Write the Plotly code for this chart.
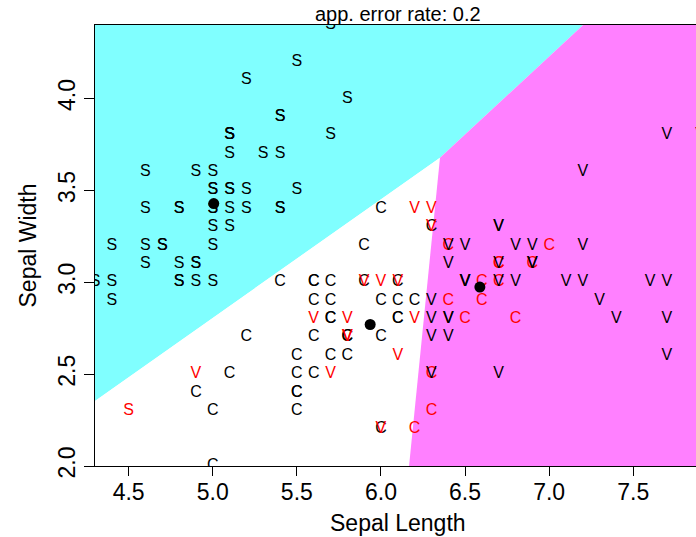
import plotly.graph_objects as go

# ---- data (iris, Sepal.Length / Sepal.Width) ----
setosa_len = [5.1,4.9,4.7,4.6,5.0,5.4,4.6,5.0,4.4,4.9,5.4,4.8,4.8,4.3,5.8,5.7,5.4,5.1,5.7,5.1,
              5.4,5.1,4.6,5.1,4.8,5.0,5.0,5.2,5.2,4.7,4.8,5.4,5.2,5.5,4.9,5.0,5.5,4.9,4.4,5.1,
              5.0,4.5,4.4,5.0,5.1,4.8,5.1,4.6,5.3,5.0]
setosa_wid = [3.5,3.0,3.2,3.1,3.6,3.9,3.4,3.4,2.9,3.1,3.7,3.4,3.0,3.0,4.0,4.4,3.9,3.5,3.8,3.8,
              3.4,3.7,3.6,3.3,3.4,3.0,3.4,3.5,3.4,3.2,3.1,3.4,4.1,4.2,3.1,3.2,3.5,3.6,3.0,3.4,
              3.5,2.3,3.2,3.5,3.8,3.0,3.8,3.2,3.7,3.3]
versi_len = [7.0,6.4,6.9,5.5,6.5,5.7,6.3,4.9,6.6,5.2,5.0,5.9,6.0,6.1,5.6,6.7,5.6,5.8,6.2,5.6,
             5.9,6.1,6.3,6.1,6.4,6.6,6.8,6.7,6.0,5.7,5.5,5.5,5.8,6.0,5.4,6.0,6.7,6.3,5.6,5.5,
             5.5,6.1,5.8,5.0,5.6,5.7,5.7,6.2,5.1,5.7]
versi_wid = [3.2,3.2,3.1,2.3,2.8,2.8,3.3,2.4,2.9,2.7,2.0,3.0,2.2,2.9,2.9,3.1,3.0,2.7,2.2,2.5,
             3.2,2.8,2.5,2.8,2.9,3.0,2.8,3.0,2.9,2.6,2.4,2.4,2.7,2.7,3.0,3.4,3.1,2.3,3.0,2.5,
             2.6,3.0,2.6,2.3,2.7,3.0,2.9,2.9,2.5,2.8]
virg_len = [6.3,5.8,7.1,6.3,6.5,7.6,4.9,7.3,6.7,7.2,6.5,6.4,6.8,5.7,5.8,6.4,6.5,7.7,7.7,6.0,
            6.9,5.6,7.7,6.3,6.7,7.2,6.2,6.1,6.4,7.2,7.4,7.9,6.4,6.3,6.1,7.7,6.3,6.4,6.0,6.9,
            6.7,6.9,5.8,6.8,6.7,6.7,6.3,6.5,6.2,5.9]
virg_wid = [3.3,2.7,3.0,2.9,3.0,3.0,2.5,2.9,2.5,3.6,3.2,2.7,3.0,2.5,2.8,3.2,3.0,3.8,2.6,2.2,
            3.2,2.8,2.8,2.7,3.3,3.2,2.8,3.0,2.8,3.0,2.8,3.8,2.8,2.8,2.6,3.0,3.4,3.1,3.0,3.1,
            3.1,3.1,2.7,3.2,3.3,3.0,2.5,3.0,3.4,3.0]
class_letters = ["S", "C", "V"]

# misclassified observations (1-based row numbers), shown in red
misclassified = [42,
                 51,52,53,55,59,66,69,73,75,76,77,78,87,88,
                 101,102,107,114,115,120,122,127,128,135,137,139,143,149,150]

# class means (black dots)
means_x = [5.006, 5.936, 6.588]
means_y = [3.428, 2.770, 2.974]

# decision regions
region_setosa_x = [4.3, 6.351, 7.202, 4.3]
region_setosa_y = [2.354, 3.678, 4.4, 4.4]
region_versi_x = [4.3, 6.167, 6.351, 4.3]
region_versi_y = [2.0, 2.0, 3.678, 2.354]
region_virg_x = [6.167, 8.0, 8.0, 7.202, 6.351]
region_virg_y = [2.0, 2.0, 4.4, 4.4, 3.678]
region_colors = ["#80FFFF", "#FFFFFF", "#FF80FF"]

title_text = "app. error rate: 0.2"
x_label = "Sepal Length"
y_label = "Sepal Width"
x_ticks = [4.5, 5.0, 5.5, 6.0, 6.5, 7.0, 7.5]
y_ticks = [2.0, 2.5, 3.0, 3.5, 4.0]

FONT = "Liberation Sans, Arial, Helvetica, sans-serif"

fig = go.Figure()

for rx, ry, col in [(region_setosa_x, region_setosa_y, region_colors[0]),
                    (region_versi_x, region_versi_y, region_colors[1]),
                    (region_virg_x, region_virg_y, region_colors[2])]:
    fig.add_trace(go.Scatter(x=rx + [rx[0]], y=ry + [ry[0]], fill="toself",
                             fillcolor=col, line=dict(width=0), mode="lines",
                             hoverinfo="skip", showlegend=False))

all_len = setosa_len + versi_len + virg_len
all_wid = setosa_wid + versi_wid + virg_wid
all_lab = ([class_letters[0]] * len(setosa_len) + [class_letters[1]] * len(versi_len)
           + [class_letters[2]] * len(virg_len))
mis = set(misclassified)
all_col = ["#FF0000" if (i + 1) in mis else "#000000" for i in range(len(all_len))]

fig.add_trace(go.Scatter(x=all_len, y=all_wid, mode="text", text=all_lab,
                         textposition="middle center",
                         textfont=dict(family=FONT, size=16, color=all_col),
                         cliponaxis=True, showlegend=False))

fig.add_trace(go.Scatter(x=means_x, y=means_y, mode="markers",
                         marker=dict(color="black", size=11),
                         showlegend=False))

fig.update_layout(
    width=696, height=537,
    margin=dict(l=95, r=0, t=25, b=71),
    plot_bgcolor="white", paper_bgcolor="white",
    font=dict(family=FONT, color="black"),
    showlegend=False,
)
fig.update_xaxes(range=[4.3, 7.873], tickvals=x_ticks, ticktext=[f"{v:.1f}" for v in x_ticks],
                 showgrid=False, zeroline=False, showline=True, mirror=True,
                 linecolor="black", linewidth=1, ticks="outside", ticklen=9,
                 tickcolor="black", tickfont=dict(size=23), ticklabelstandoff=-4)
fig.update_yaxes(range=[2.0, 4.4], tickvals=y_ticks, ticktext=[f"{v:.1f}" for v in y_ticks],
                 showgrid=False, zeroline=False, showline=True, mirror=True,
                 linecolor="black", linewidth=1, ticks="outside", ticklen=10,
                 tickcolor="black", tickfont=dict(size=23), tickangle=-90,
                 ticklabelstandoff=0)

fig.add_annotation(text=title_text, xref="paper", yref="paper", x=0.504, y=1.0,
                   yshift=11, showarrow=False, font=dict(size=20), yanchor="middle")
fig.add_annotation(text=x_label, xref="paper", yref="paper", x=0.504, y=0.0,
                   yshift=-57, showarrow=False, font=dict(size=23), yanchor="middle")
fig.add_annotation(text=y_label, xref="paper", yref="paper", x=0.0, y=0.5,
                   xshift=-68, showarrow=False, font=dict(size=23), textangle=-90,
                   xanchor="center", yanchor="middle")

fig.write_html("out.html")
